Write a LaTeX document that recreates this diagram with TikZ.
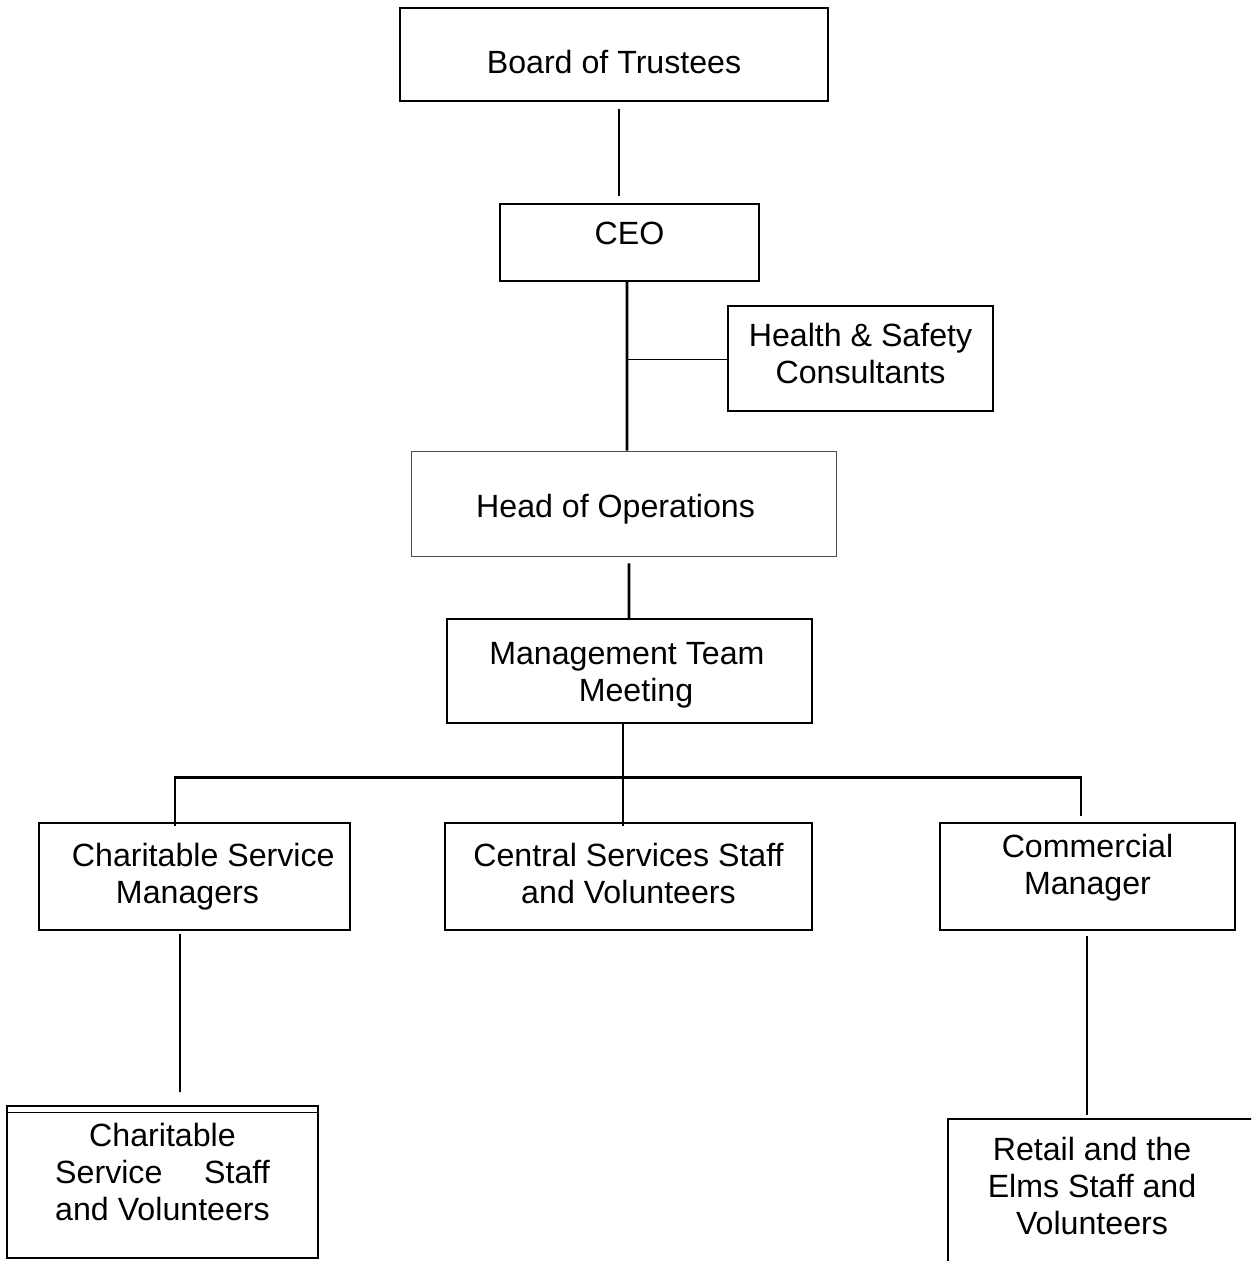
\documentclass[tikz,border=0pt]{standalone}
\usepackage{fontspec}
\setmainfont{Liberation Sans}
\usetikzlibrary{positioning}

\tikzset{
  box/.style = {draw, rectangle, line width=1pt, align=center, inner sep=0pt,
                font=\fontsize{18.3}{21.06}\selectfont, text height=14pt},
  link/.style = {line width=1pt},
  spine/.style = {line width=1.6pt}
}

\begin{document}
\begin{tikzpicture}[x=0.02cm, y=-0.02cm]
        \useasboundingbox (0,0) rectangle (1251,1261);
        \clip (0,0) rectangle (1251,1261);
        % top of the chart
        \node[box, minimum width=8.56cm, minimum height=1.86cm, text height=26.7pt, text depth=4.6pt] (board) at (614,54.5) {Board of Trustees};
        \node[box, minimum width=5.18cm, minimum height=1.54cm, text depth=11.4pt] (ceo) at (629.5,242.5) {CEO};
        \node[box, minimum width=5.3cm, minimum height=2.1cm, text height=31.8pt, text depth=3pt] (hs) at (860.5,358.5) {Health \& Safety\\Consultants};
        \node[box, line width=0.5pt, draw=black!70, minimum width=8.5cm, minimum height=2.1cm, text height=18.2pt, text depth=2.3pt] (hoo) at (623.5,503.5) {Head of Operations\hspace{9pt}};
        \node[box, minimum width=7.3cm, minimum height=2.08cm, text height=37.5pt, text depth=3pt] (mtm) at (629.5,671) {Management Team\rule{3pt}{0pt}\\\hspace*{7.4pt}Meeting};
        % second row
        \node[box, minimum width=6.22cm, minimum height=2.14cm, text height=34.1pt, text depth=3pt] (csm) at (194.5,876.5) {\hspace*{10pt}Charitable Service\\Managers\rule{8pt}{0pt}};
        \node[box, minimum width=7.34cm, minimum height=2.14cm, text height=34.1pt, text depth=3pt] (central) at (628.5,876.5) {Central Services Staff\\and Volunteers};
        \node[box, minimum width=5.9cm, minimum height=2.14cm, text height=23.8pt, text depth=3pt] (comm) at (1087.5,876.5) {Commercial\\Manager};
        % bottom row
        \node[box, minimum width=6.22cm, minimum height=3.04cm, text height=46.6pt, text depth=3pt] (css) at (162.5,1182) {Charitable\\Service\hspace{1.3em}Staff\\and Volunteers};
        \node[box, draw=none, minimum width=5.72cm, minimum height=2.9cm, text height=50.7pt, text depth=3pt] (retail) at (1092,1192.5) {Retail and the\\Elms Staff and\\Volunteers};
        \draw[line width=0.6pt] ([shift={(0,7)}]css.north west) -- ([shift={(0,7)}]css.north east);
        \draw[link] (retail.south west) -- (retail.north west) -- ([shift={(27,0)}]retail.north east);

        \draw[link] ([shift={(5,7)}]board.south) -- ([shift={(-10.5,-7)}]ceo.north);
        \draw[spine] ([shift={(-2.5,0)}]ceo.south) -- coordinate[pos=0.46] (hsjoin) ([shift={(3.5,0)}]hoo.north);
        \draw[link] (hsjoin) -- (hsjoin -| hs.west);
        \draw[spine] ([shift={(5.5,7)}]hoo.south) -- ([shift={(-0.5,0)}]mtm.north);
        \draw[link] ([shift={(-6.5,0)}]mtm.south) -- ([shift={(-5.5,4)}]central.north);
        \draw[spine] ([shift={(-19.5,4)}]csm.north) -- ++(0,-49) -| ([shift={(-6.5,-6)}]comm.north);
        \draw[link] ([shift={(-14.5,3)}]csm.south) -- ([shift={(17.5,-13)}]css.north);
        \draw[link] ([shift={(-0.5,5)}]comm.south) -- ([shift={(-5,-4)}]retail.north);
\end{tikzpicture}
\end{document}
